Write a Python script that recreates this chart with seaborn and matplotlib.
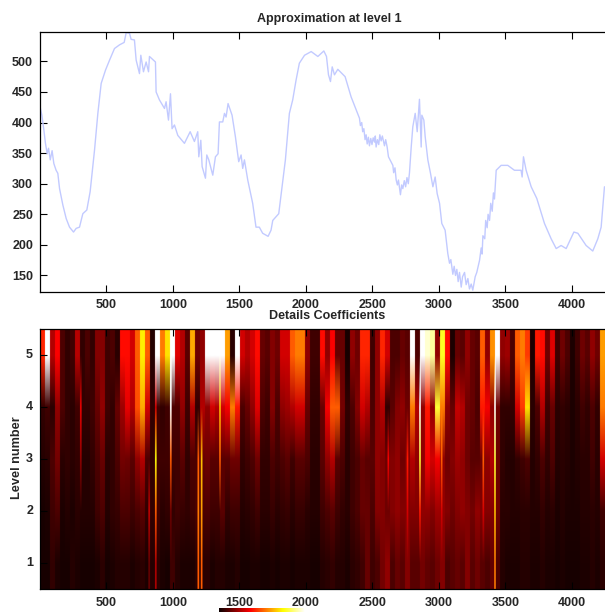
import numpy as np
import pandas as pd
import matplotlib
matplotlib.use("Agg")
import matplotlib.pyplot as plt
import seaborn as sns

# Approximation at level 1 (sample index, value)
approx_x = [1,15,30,42,55,65,78,92,105,122,135,148,173,198,223,253,273,298,323,353,378,411,436,461,494,524,561,599,634,649,674,686,711,724,749,759,779,799,817,824,869,874,899,937,949,967,982,994,1012,1037,1087,1130,1162,1187,1195,1210,1220,1245,1255,1270,1300,1320,1340,1350,1375,1388,1400,1415,1445,1470,1495,1513,1525,1538,1563,1600,1625,1650,1675,1716,1738,1751,1796,1821,1846,1876,1901,1926,1951,
            1990,2040,2090,2135,2155,2170,2185,2198,2215,2240,2295,2340,2403,2410,2420,2427,2436,2445,2453,2461,2470,2478,2488,2497,2506,2516,2522,2528,2538,2548,2556,2566,2575,2591,2600,2611,2621,2654,2660,2670,2679,2688,2696,2711,2720,2729,2740,2750,2760,2770,2779,2792,2804,2822,2837,2854,2867,2872,2887,2897,2917,2937,2955,2972,2987,3005,3022,3047,3067,3080,3090,3105,3115,3125,3135,3145,3155,3168,3178,3193,3205,3218,3230,3243,3255,3273,3285,3306,3318,3325,3331,3345,3352,3363,3370,3381,3390,3401,3410,3418,3431,3468,3518,3568,3618,3626,3636,3656,3694,3736,3794,3844,3882,3919,3957,4015,4045,4107,4157,4195,4220,4245]
approx_y = [426,412,388,366,349,358,339,354,333,322,317,292,265,243,229,221,227,229,251,257,287,355,415,464,486,502,521,527,531,547,546,536,535,502,480,510,483,499,483,508,499,450,437,423,434,404,447,390,396,379,366,385,369,385,344,371,328,309,347,339,314,344,349,401,401,415,409,431,412,377,336,347,325,339,306,268,229,229,219,214,224,240,251,295,339,415,437,469,497,
            510,516,508,517,508,478,467,491,478,487,475,442,407,395,400,385,390,372,380,365,376,362,374,364,375,368,378,360,372,364,380,370,378,362,372,360,344,330,318,326,306,298,306,282,298,292,305,295,310,300,318,360,393,415,385,438,360,412,404,377,339,317,295,311,284,268,235,224,186,170,176,152,165,150,160,140,155,131,148,155,135,145,128,136,126,148,155,175,195,185,215,210,240,228,250,240,268,255,285,275,322,330,330,322,322,311,344,322,295,276,235,210,194,199,194,221,219,199,190,210,229,295]

# Detail coefficient magnitude per level, left to right (0..1 on the colour scale)
level5 = [.42,1,.25,.36,.1,.06,.08,.26,.06,.1,.06,.18,.18,.08,.1,.05,.38,.38,.3,.5,.72,.5,.04,1,.55,.7,1,.32,.25,.12,.62,.15,.2,1,1,1,1,.6,.05,1,.3,.25,.3,.38,.14,.12,.18,.15,.3,.3,.5,.55,.55,
          .2,.08,.08,.38,.2,.36,.14,.14,.02,.2,.15,.42,.42,.08,.2,.42,.3,.1,.1,.14,.12,1,.1,1,.95,.9,.2,.78,.38,.03,.14,.12,.2,.14,.12,.5,.2,.58,1,.2,.22,.1,.5,.55,.45,.03,.4,.38,.15,.32,.08,.15,.1,.03,.08,.15,.12,.2,.15,.6]
level4 = [.06,.08,.05,.2,.1,.06,.05,.08,.06,.06,.08,.14,.2,.08,.06,.14,.22,.33,.25,.48,.62,.3,.06,.08,.06,.08,.1,.1,.2,.08,.25,.06,.25,.2,.3,.25,.3,.35,.55,.4,.1,.14,.2,.32,.1,.08,.18,.1,.2,.22,.25,.3,.3,
          .14,.06,.06,.14,.35,.5,.5,.16,.06,.1,.18,.3,.25,.1,.2,.25,.06,.12,.18,.2,.15,.55,.25,.2,.4,.2,.8,.55,.2,.14,.28,.25,.15,.14,.1,.4,.35,.2,.15,.06,.06,.06,.3,.45,.7,.05,.1,.25,.08,.14,.05,.06,.05,.03,.05,.08,.06,.1,.06,.55]
level3 = [.04,.05,.1,.16,.05,.06,.05,.06,.04,.04,.06,.1,.14,.05,.06,.1,.16,.15,.12,.2,.25,.1,.06,.08,.08,.08,.08,.08,.12,.06,.1,.1,.14,.15,.12,.12,.12,.12,.15,.15,.06,.08,.1,.15,.06,.06,.1,.08,.1,.12,.08,.12,.12,
          .1,.05,.05,.12,.2,.25,.12,.1,.05,.08,.1,.14,.12,.12,.2,.18,.15,.18,.2,.15,.18,.25,.2,.2,.35,.3,.35,.2,.15,.18,.22,.2,.15,.12,.12,.15,.2,.25,.15,.06,.04,.04,.06,.08,.1,.04,.06,.1,.06,.1,.04,.05,.04,.03,.04,.05,.05,.08,.05,.3]
level2 = [.02,.03,.08,.1,.03,.04,.03,.05,.04,.04,.04,.08,.1,.04,.06,.07,.1,.1,.08,.1,.12,.06,.06,.08,.05,.06,.06,.08,.07,.06,.08,.1,.1,.1,.08,.08,.12,.06,.08,.08,.04,.05,.06,.08,.05,.05,.07,.05,.06,.07,.05,.07,.07,
          .05,.04,.04,.08,.1,.12,.08,.06,.05,.08,.1,.14,.14,.1,.18,.18,.15,.18,.2,.18,.18,.18,.18,.2,.2,.18,.22,.2,.18,.15,.18,.2,.18,.16,.2,.18,.18,.18,.15,.05,.05,.04,.04,.05,.05,.04,.04,.06,.04,.05,.03,.04,.03,.03,.03,.04,.04,.05,.04,.08]
level1 = [.02,.02,.06,.03,.02,.02,.04,.03,.02,.02,.02,.03,.05,.02,.03,.04,.04,.04,.03,.04,.05,.03,.04,.05,.03,.02,.08,.04,.03,.03,.03,.05,.05,.05,.03,.04,.04,.03,.03,.04,.02,.02,.03,.03,.02,.02,.03,.02,.03,.03,.02,.03,.03,
          .03,.02,.02,.04,.05,.06,.04,.04,.03,.05,.06,.08,.14,.08,.1,.16,.2,.1,.14,.12,.18,.12,.12,.16,.13,.12,.15,.18,.1,.12,.14,.12,.18,.12,.15,.12,.1,.13,.1,.04,.03,.03,.03,.04,.04,.03,.03,.04,.03,.03,.02,.03,.02,.02,.02,.03,.03,.04,.03,.05]

# Narrow bright coefficients: sample index, then value at levels 1..5 (None = keep coarse value)
stripe_x = [302, 819, 869, 980, 1190, 1213, 1350, 2616, 2762, 2854, 3017, 3331, 3418]
stripe_l1 = [None, .14, .25, .08, .5, .5, None, None, None, None, .18, None, .55]
stripe_l2 = [None, .28, .5, .15, .55, .6, None, None, .3, .4, .3, .3, .65]
stripe_l3 = [.2, .1, .75, .5, .5, .65, .5, .35, .4, .8, .5, .5, .8]
stripe_l4 = [.34, None, .3, 1, None, None, .65, None, None, 1, None, None, 1]

x_ticks = [500, 1000, 1500, 2000, 2500, 3000, 3500, 4000]
approx_ticks = [150, 200, 250, 300, 350, 400, 450, 500]
level_ticks = [1, 2, 3, 4, 5]

W, H = 605, 612
XMIN, XMAX = 1, 4249
FINE = 6  # image columns per coarse column

sns.set_style("white")
plt.rcParams["font.family"] = ["Liberation Sans", "DejaVu Sans"]
plt.rcParams["font.weight"] = "bold"
plt.rcParams["font.size"] = 9

fig = plt.figure(figsize=(W / 100, H / 100), dpi=100)


def box(x0, y0, x1, y1):
    return [x0 / W, 1 - y1 / H, (x1 - x0) / W, (y1 - y0) / H]


ax1 = fig.add_axes(box(40, 32, 605, 292))
ax2 = fig.add_axes(box(40, 329, 605, 589))
cax = fig.add_axes(box(219, 608, 305, 616))

sns.lineplot(x=approx_x, y=approx_y, ax=ax1, color="#c2caff", lw=1.0, estimator=None, sort=False)
ax1.set_xlim(XMIN, XMAX)
ax1.set_ylim(123, 548)
ax1.set_yticks(approx_ticks)
ax1.set_title("Approximation at level 1", fontsize=9, fontweight="bold", pad=7, x=0.512)

matrix = pd.DataFrame([level1, level2, level3, level4, level5], index=level_ticks)
fine = np.repeat(matrix.to_numpy(), FINE, axis=1)
for row, stripes in enumerate([stripe_l1, stripe_l2, stripe_l3, stripe_l4]):
    for sx, val in zip(stripe_x, stripes):
        if val is not None:
            col = int((sx - XMIN) / (XMAX - XMIN) * fine.shape[1])
            fine[row, col:col + 2] = val

sns.heatmap(matrix, ax=ax2, cmap="hot", vmin=0, vmax=1, cbar_ax=cax,
            cbar_kws={"orientation": "horizontal", "ticks": []})
ax2.collections[0].set_visible(False)
ax2.imshow(fine, cmap="hot", vmin=0, vmax=1, origin="lower", aspect="auto",
           interpolation="bilinear", interpolation_stage="rgba",
           extent=(XMIN, XMAX, 0.5, 5.5))
ax2.set_xlim(XMIN, XMAX)
ax2.set_ylim(0.5, 5.5)
ax2.set_yticks(level_ticks)
ax2.set_yticklabels(level_ticks, rotation=0)
ax2.set_ylabel("Level number", fontsize=9.2, fontweight="bold", labelpad=2, y=0.505)
ax2.set_title("Details Coefficients", fontsize=9, fontweight="bold", pad=7, x=0.5075)

for ax, xpad in ((ax1, 5), (ax2, 6)):
    ax.set_xticks(x_ticks)
    ax.set_xticklabels(x_ticks, rotation=0)
    ax.set_xlabel("")
    ax.tick_params(axis="x", direction="in", top=True, bottom=True, length=5, width=0.8, color="black", pad=xpad, labelsize=9)
    ax.tick_params(axis="y", direction="in", left=True, length=5, width=0.8, color="black", pad=5, labelsize=9)
    for name, sp in ax.spines.items():
        sp.set_visible(name != "right")
        sp.set_color("black")
        sp.set_linewidth(0.9)

fig.savefig("out.png", dpi=100)
